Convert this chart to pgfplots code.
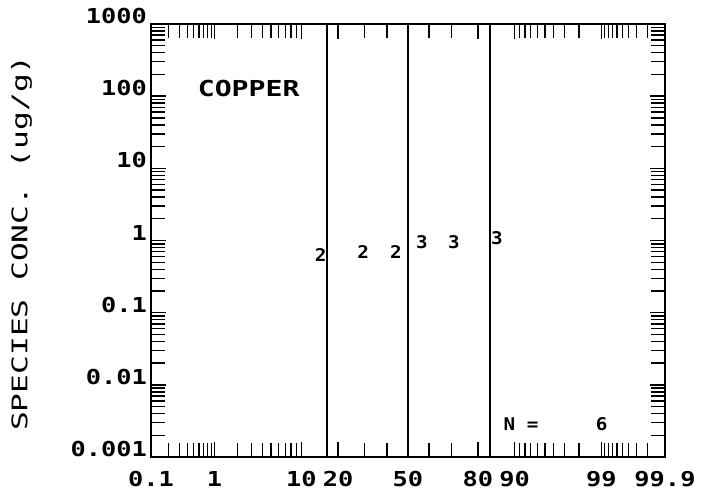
\documentclass[border=0pt]{standalone}
\usepackage{fontspec}
\usepackage{pgfplots}
\pgfplotsset{compat=1.18}
\usetikzlibrary{calc}
\newfontfamily\tickfam[FakeStretch=1.23]{DejaVu Sans Mono}
\newfontfamily\labfam[FakeStretch=1.45]{DejaVu Sans Mono}
\newfontfamily\txtfam[FakeStretch=1.28]{DejaVu Sans Mono}
\newfontfamily\smallfam[FakeStretch=1.1]{DejaVu Sans Mono}
\newcommand{\tickfont}{\tickfam\bfseries\fontsize{20.6bp}{24bp}\selectfont}
\newcommand{\labfont}{\labfam\fontsize{21.5bp}{26bp}\selectfont}
\newcommand{\txtfont}{\txtfam\bfseries\fontsize{22bp}{26bp}\selectfont}
\newcommand{\smallfont}{\smallfam\bfseries\fontsize{17.5bp}{20bp}\selectfont}

% plotting positions i/(N+1) on a normal-probability scale (z values)
\pgfplotstableread{
z      conc  grp
-1.05  0.63  2
-0.54  0.69  2
-0.144 0.69  2
0.168  0.95  3
0.553  0.95  3
1.07   1.08  3
}\coppertable

\begin{document}
\begin{tikzpicture}
\begin{axis}[
  name=main,
  scale only axis,
  width=514bp, height=433bp,
  xmin=-3.0902, xmax=3.0902,
  ymode=log, ymin=0.001, ymax=1000,
  axis line style={line width=1.8bp},
  every tick/.style={black, line width=1.4bp},
  tick align=inside,
  major tick length=15bp, minor tick length=14bp,
  xtick={-3.0902,-2.3263,-1.2816,-0.8416,0,0.8416,1.2816,2.3263,3.0902},
  xticklabels={0.1,1,10,20,50,80,90,99,99.9},
  minor xtick={-2.8782,-2.7478,-2.6521,-2.5758,-2.5121,-2.4573,-2.4089,-2.3656,
    -2.0537,-1.8808,-1.7507,-1.6449,-1.5548,-1.4758,-1.4051,-1.3408,
    -0.5244,-0.2533,0.2533,0.5244,
    1.3408,1.4051,1.4758,1.5548,1.6449,1.7507,1.8808,2.0537,
    2.3656,2.4089,2.4573,2.5121,2.5758,2.6521,2.7478,2.8782},
  ytick={0.001,0.01,0.1,1,10,100,1000},
  yticklabels={0.001,0.01,0.1,1,10,100,1000},
  x tick label style={font=\tickfont, anchor=north, inner sep=0pt, yshift=-14bp},
  y tick label style={font=\tickfont, anchor=south east, inner sep=0pt, xshift=-4bp},
  ylabel={SPECIES CONC.  (ug/g)},
  ylabel style={font=\labfont, at={(axis description cs:-0.252,0.494)}, anchor=center},
  clip=false,
]
% reference lines at about 16, 50 and 84 percent
\addplot[black, line width=1.4bp] coordinates {(-0.975,0.001) (-0.975,1000)};
\addplot[black, line width=1.4bp] coordinates {(0.0,0.001) (0.0,1000)};
\addplot[black, line width=1.4bp] coordinates {(0.985,0.001) (0.985,1000)};
% observations plotted with their group digit
\addplot[draw=none, mark=none, nodes near coords, point meta=explicit symbolic,
  nodes near coords style={anchor=center, font=\smallfont, inner sep=0pt}]
  table[x=z, y=conc, meta=grp] {\coppertable};
\node[font=\txtfont, anchor=center] at (rel axis cs:0.19,0.852) {COPPER};
\node[font=\smallfont, anchor=center] at (rel axis cs:0.72,0.076) {N =};
\node[font=\smallfont, anchor=center] at (rel axis cs:0.877,0.076) {6};
\end{axis}
\pgfresetboundingbox
\path ($(main.south west)+(-151bp,-38bp)$) rectangle ($(main.north east)+(39bp,24bp)$);
\end{tikzpicture}
\end{document}
